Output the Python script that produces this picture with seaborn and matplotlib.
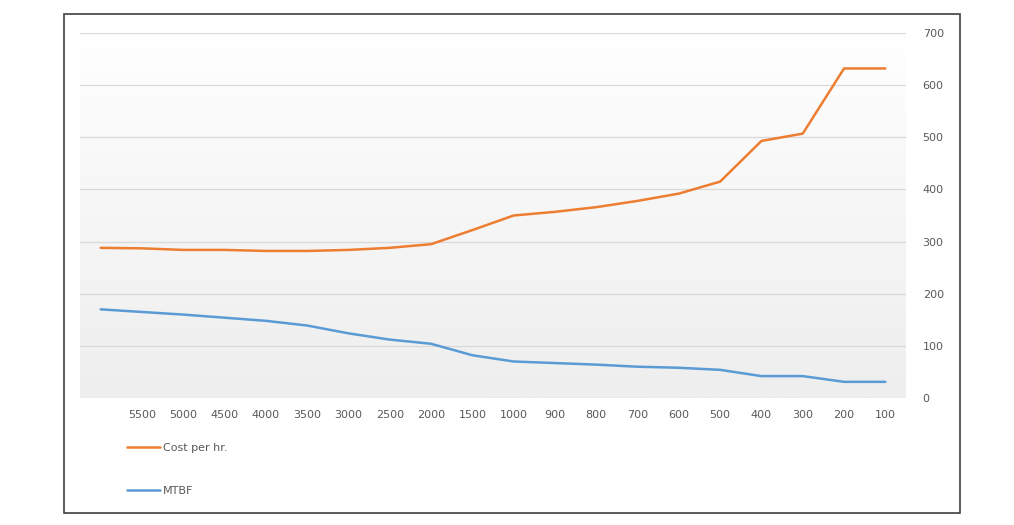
import numpy as np
import pandas as pd
import matplotlib
matplotlib.use("Agg")
import matplotlib.pyplot as plt
import seaborn as sns
from matplotlib.patches import Rectangle

# ── data ──────────────────────────────────────────────────────────────────────
hours = ["", "5500", "5000", "4500", "4000", "3500", "3000", "2500", "2000",
         "1500", "1000", "900", "800", "700", "600", "500", "400", "300",
         "200", "100"]
cost_per_hr = [288, 287, 284, 284, 282, 282, 284, 288, 295, 322, 350, 357,
               366, 378, 392, 415, 493, 507, 632, 632]
mtbf = [170, 165, 160, 154, 148, 139, 124, 112, 104, 82, 70, 67, 64, 60, 58,
        54, 42, 42, 31, 31]

ORANGE = "#ED7D31"
BLUE = "#5B9BD5"
TEXT = "#595959"

sns.set_theme(style="white")
plt.rcParams["font.family"] = ["DejaVu Sans"]

df = pd.DataFrame({
    "pos": list(range(len(hours))) * 2,
    "value": cost_per_hr + mtbf,
    "series": ["Cost per hr."] * len(hours) + ["MTBF"] * len(hours),
})

fig = plt.figure(figsize=(10.14, 5.25), dpi=100)
ax = fig.add_axes([80 / 1014, 1 - 398 / 525, (906 - 80) / 1014, (398 - 33) / 525])

# soft vertical gradient behind the plot area
grad = np.linspace(0, 1, 256).reshape(-1, 1)
ax.imshow(grad, extent=[0, 1, 0, 1], transform=ax.transAxes, aspect="auto",
          cmap=matplotlib.colors.LinearSegmentedColormap.from_list(
              "bg", ["#eeeeee", "#f6f6f6", "#ffffff"]),
          origin="lower", zorder=0)

sns.lineplot(data=df, x="pos", y="value", hue="series",
             palette={"Cost per hr.": ORANGE, "MTBF": BLUE},
             linewidth=1.8, sort=False, ax=ax, legend=False, zorder=3)

ax.set_xlim(-0.5, len(hours) - 0.5)
ax.set_ylim(0, 700)
ax.set_xticks(range(len(hours)))
ax.set_xticklabels(hours)
ax.set_yticks(range(0, 701, 100))
ax.yaxis.tick_right()
ax.tick_params(axis="y", length=0, pad=12, labelsize=8, labelcolor=TEXT)
ax.tick_params(axis="x", length=0, pad=9, labelsize=8, labelcolor=TEXT)
ax.set_xlabel("")
ax.set_ylabel("")
ax.grid(axis="y", color="#d9d9d9", linewidth=0.9, zorder=1)
ax.set_axisbelow(True)
for s in ax.spines.values():
    s.set_visible(False)

# legend below the chart, stacked
handles = [plt.Line2D([], [], color=ORANGE, lw=1.8),
           plt.Line2D([], [], color=BLUE, lw=1.8)]
fig.legend(handles, ["Cost per hr.", "MTBF"], loc="upper left",
           bbox_to_anchor=(127 / 1014, 1 - 443 / 525), frameon=False,
           fontsize=8, labelcolor=TEXT, handlelength=3.0, handletextpad=0.2,
           labelspacing=2.95, borderpad=0, borderaxespad=0)

# outer chart border
fig.patches.append(Rectangle((63.5 / 1014, 1 - 513 / 525),
                             (960 - 63.5) / 1014, (513 - 14) / 525,
                             transform=fig.transFigure, fill=False,
                             edgecolor="#404040", linewidth=1.2))

fig.savefig("out.png", dpi=100)
plt.close(fig)
